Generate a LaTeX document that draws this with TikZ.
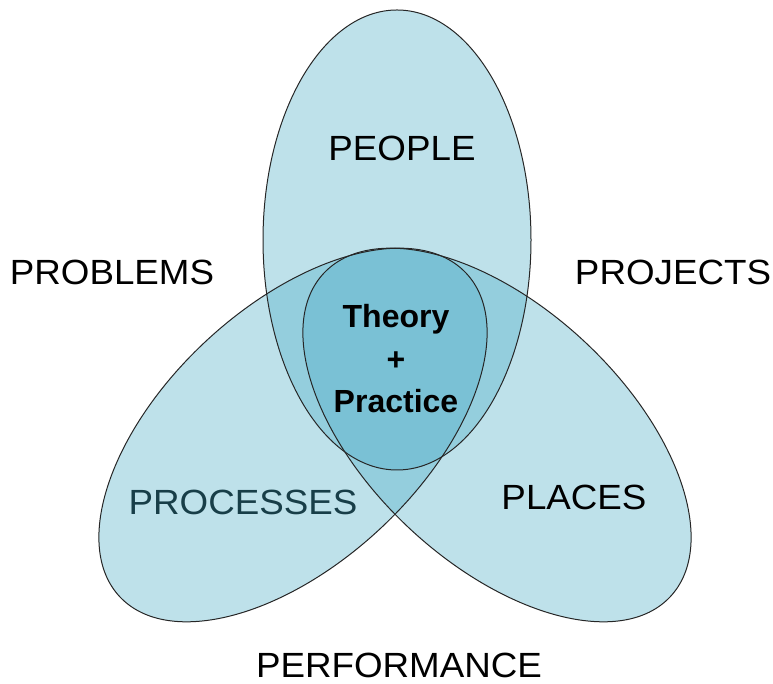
\documentclass[tikz,border=0pt]{standalone}
\usepackage{fontspec}
\setmainfont{Liberation Sans}
\usepackage{xcolor}
\usepackage{graphicx}
\usepackage{tikz}

\definecolor{petalblue}{RGB}{75,172,198}
\definecolor{processtext}{RGB}{24,62,72}
\newcommand{\wideword}[1]{\scalebox{1.05}[1]{#1}}

\begin{document}
\begin{tikzpicture}[x=1pt, y=1pt,
		petal/.style={fill=petalblue, fill opacity=0.36},
		rim/.style={draw=black!85, line width=1pt},
		word/.style={font=\fontsize{35}{40}\selectfont}]
		\useasboundingbox (0,0) rectangle (773,684);
		
		% the three ellipses, filled first
		\fill[petal] (397,444) ellipse [x radius=134, y radius=230];
		\fill[petal, shift={(293,249)}, rotate=43] (0,0) ellipse [x radius=237, y radius=128];
		\fill[petal, shift={(497,249)}, rotate=-43] (0,0) ellipse [x radius=237, y radius=128];
		
		% then their outlines
		\draw[rim] (397,444) ellipse [x radius=134, y radius=230];
		\draw[rim, shift={(293,249)}, rotate=43] (0,0) ellipse [x radius=237, y radius=128];
		\draw[rim, shift={(497,249)}, rotate=-43] (0,0) ellipse [x radius=237, y radius=128];
		
		\node[word] (people) at (402,536) {\wideword{PEOPLE}};
		\node[word, text=processtext] (processes) at (243,182) {\wideword{PROCESSES}};
		\node[word] (places) at (574,187) {\wideword{PLACES}};
		
		\node[word] (problems) at (112,412) {\wideword{PROBLEMS}};
		\node[word] (projects) at (673,412) {\wideword{PROJECTS}};
		\node[word] (performance) at (399,19) {\wideword{PERFORMANCE}};
		
		\node[align=center, font=\fontsize{32}{42.5}\selectfont\bfseries] (core) at (396,325) {Theory\\+\\Practice};
	\end{tikzpicture}
\end{document}
